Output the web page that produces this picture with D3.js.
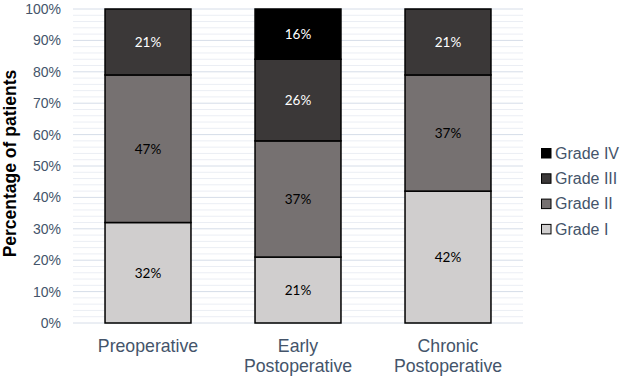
<!DOCTYPE html>
<html><head><meta charset="utf-8">
<script src="https://cdn.jsdelivr.net/npm/d3@7"></script>
<style>body{margin:0;background:#fff}svg{display:block}</style>
</head><body>
<svg id="c" width="624" height="378"></svg>
<script>
const categories = [["Preoperative"], ["Early", "Postoperative"], ["Chronic", "Postoperative"]];
const categoryKeys = ["Preoperative", "Early Postoperative", "Chronic Postoperative"];
const grades = ["Grade I", "Grade II", "Grade III", "Grade IV"];
const gradeI = [32, 21, 42];
const gradeII = [47, 37, 37];
const gradeIII = [21, 26, 21];
const gradeIV = [0, 16, 0];
const yTicks = [0, 10, 20, 30, 40, 50, 60, 70, 80, 90, 100];
const colors = ["#d0cece", "#767171", "#3b3838", "#000000"];
const labelColors = ["#000", "#000", "#fff", "#fff"];

(function () {
const series = [gradeI, gradeII, gradeIII, gradeIV];
const svg = d3.select("#c");
const mLeft = 73, mRight = 523, mTop = 9, mBottom = 323;

const x = d3.scaleBand().domain(categoryKeys).range([mLeft, mRight]).paddingInner(0.427).paddingOuter(0.2135);
const y = d3.scaleLinear().domain([0, 100]).range([mBottom, mTop]);

// gridlines
const minor = d3.range(0, 101, 2).filter(v => v % 10 !== 0);
svg.append("g").selectAll("line").data(minor).join("line")
  .attr("x1", mLeft).attr("x2", mRight).attr("y1", d => y(d)).attr("y2", d => y(d))
  .attr("stroke", "#ebeef4").attr("stroke-width", 1);
svg.append("g").selectAll("line").data(yTicks).join("line")
  .attr("x1", mLeft).attr("x2", mRight).attr("y1", d => y(d)).attr("y2", d => y(d))
  .attr("stroke", "#d6dde8").attr("stroke-width", 1);

// y axis labels
const yAxis = d3.axisLeft(y).tickValues(yTicks).tickFormat(d => d + "%").tickSize(0).tickPadding(0);
const ga = svg.append("g").attr("transform", `translate(${mLeft - 12},0)`).call(yAxis);
ga.select(".domain").remove();
ga.selectAll("text").attr("font-family", "Liberation Sans, Arial, sans-serif").attr("font-size", 14).attr("fill", "#44546a");

// y title
svg.append("text").attr("transform", `translate(16,${(mTop + mBottom) / 2 - 2.5}) rotate(-90)`)
  .attr("text-anchor", "middle").attr("font-family", "Liberation Sans, Arial, sans-serif")
  .attr("font-weight", "bold").attr("font-size", 17.5).attr("fill", "#000").text("Percentage of patients");

// stacked bars
const stackData = categoryKeys.map((k, i) => {
  const o = { key: k };
  grades.forEach((g, j) => o[g] = series[j][i]);
  return o;
});
const stacked = d3.stack().keys(grades)(stackData);
stacked.forEach((layer, j) => {
  const g = svg.append("g");
  layer.forEach((seg, i) => {
    const v = seg[1] - seg[0];
    if (v <= 0) return;
    const key = categoryKeys[i];
    g.append("rect").attr("x", x(key)).attr("width", x.bandwidth())
      .attr("y", y(seg[1])).attr("height", y(seg[0]) - y(seg[1]))
      .attr("fill", colors[j]).attr("stroke", "#000").attr("stroke-width", 1.5);
    g.append("text").attr("x", x(key) + x.bandwidth() / 2).attr("y", (y(seg[0]) + y(seg[1])) / 2)
      .attr("dy", "0.36em").attr("text-anchor", "middle")
      .attr("font-family", "Lato, sans-serif").attr("font-size", 13.5)
      .attr("fill", labelColors[j]).text(v + "%");
  });
});

// x labels
categoryKeys.forEach((k, i) => {
  const t = svg.append("text").attr("x", x(k) + x.bandwidth() / 2).attr("y", 352)
    .attr("text-anchor", "middle").attr("font-family", "Liberation Sans, Arial, sans-serif")
    .attr("font-size", 17.7).attr("fill", "#44546a");
  categories[i].forEach((line, li) => {
    t.append("tspan").attr("x", x(k) + x.bandwidth() / 2).attr("dy", li === 0 ? 0 : 20).text(line);
  });
});

// legend
const legendOrder = grades.slice().reverse();
const lg = svg.append("g");
legendOrder.forEach((g, i) => {
  const j = grades.indexOf(g);
  const cy = 153 + i * 25.3;
  lg.append("rect").attr("x", 541.5).attr("y", cy - 4.5).attr("width", 9.5).attr("height", 9.5)
    .attr("fill", colors[j]).attr("stroke", "#000").attr("stroke-width", 1);
  lg.append("text").attr("x", 555).attr("y", cy).attr("dy", "0.36em")
    .attr("font-family", "Liberation Sans, Arial, sans-serif").attr("font-size", 16)
    .attr("fill", "#44546a").text(g);
});
})();
</script>
</body></html>
